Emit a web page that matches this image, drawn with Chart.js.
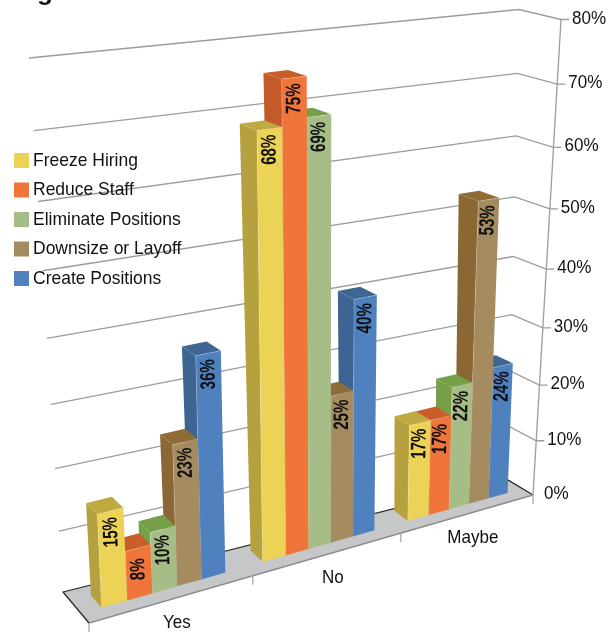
<!DOCTYPE html>
<html>
<head>
<meta charset="utf-8">
<script src="https://cdn.jsdelivr.net/npm/chart.js@4"></script>
<style>html,body{margin:0;padding:0;background:#fff}canvas{display:block}</style>
</head>
<body>
<canvas id="c" width="610" height="632"></canvas>
<script>
const categories = ['Yes', 'No', 'Maybe'];
const seriesNames = ['Freeze Hiring', 'Reduce Staff', 'Eliminate Positions', 'Downsize or Layoff', 'Create Positions'];
const freezeHiring = [15, 68, 17];
const reduceStaff = [8, 75, 17];
const eliminatePositions = [10, 69, 22];
const downsizeOrLayoff = [23, 25, 53];
const createPositions = [36, 40, 24];
const frontColors = ['#EDD355', '#F0753A', '#A7BD87', '#A58B60', '#4E81BE'];
const sideColors = ['#B5A23F', '#C25B28', '#76A048', '#8A6733', '#3D6492'];
const topColors = ['#BFAA40', '#C85E2A', '#76A048', '#8F6C36', '#3F6693'];

// View of the 3D box: page position of its eight corners
const view = {
  front: {floorL: [89, 623], floorR: [533, 495], topL: [66, 72], topR: [561, 19.5]},
  back:  {floorL: [63, 592], floorR: [508, 480], topL: [29, 58], topR: [519, 9.5]}
};
const FONT = '"Liberation Sans", Arial, sans-serif';

function lerp(a, b, t) { return [a[0] + (b[0] - a[0]) * t, a[1] + (b[1] - a[1]) * t]; }

function project(chart, px, py, depth) {
  const a = chart.chartArea;
  const nx = (px - a.left) / (a.right - a.left);
  const ny = (a.bottom - py) / (a.bottom - a.top);
  const X = nx * (1.16 - 0.16 * nx);
  const Y = ny * (0.9 + 0.1 * ny);
  const side = (v) => lerp(lerp(v.floorL, v.floorR, X), lerp(v.topL, v.topR, X), Y);
  return lerp(side(view.front), side(view.back), depth);
}
// bar depth within the box: the box foreshortens towards the right
function depthFront(chart, px) { const a = chart.chartArea; return 0.3 + 0.12 * (px - a.left) / (a.right - a.left); }
function depthBack(chart, px) { const a = chart.chartArea; return 0.7 + 0.3 * (px - a.left) / (a.right - a.left); }
// bars shrink slightly with distance along the category direction
function barTop(chart, el) {
  const a = chart.chartArea;
  const k = 1 - 0.03 * Math.pow((el.x - a.left) / (a.right - a.left), 4);
  return el.base - (el.base - el.y) * k;
}

function poly(ctx, pts, fill) {
  ctx.beginPath();
  pts.forEach((p, i) => i ? ctx.lineTo(p[0], p[1]) : ctx.moveTo(p[0], p[1]));
  ctx.closePath();
  ctx.fillStyle = fill;
  ctx.fill();
}
function line(ctx, pts, color, width) {
  ctx.beginPath();
  pts.forEach((p, i) => i ? ctx.lineTo(p[0], p[1]) : ctx.moveTo(p[0], p[1]));
  ctx.strokeStyle = color;
  ctx.lineWidth = width;
  ctx.stroke();
}
function label(ctx, text, x, y, font, squeeze, align, angle) {
  ctx.save();
  ctx.translate(x, y);
  if (angle) ctx.rotate(angle);
  ctx.scale(squeeze, 1);
  ctx.font = font;
  ctx.fillStyle = '#111';
  ctx.textAlign = align;
  ctx.textBaseline = 'middle';
  ctx.fillText(text, 0, 0);
  ctx.restore();
}

const box3d = {
  id: 'box3d',
  beforeDatasetDraw() { return false; },
  beforeDatasetsDraw(chart) {
    const ctx = chart.ctx, a = chart.chartArea;
    const xs = chart.scales.x, ys = chart.scales.y;
    const P = (px, py, d) => project(chart, px, py, d);
    const zero = ys.getPixelForValue(0);

    // clipped figure caption at the page top
    ctx.save();
    ctx.font = 'bold 26px ' + FONT;
    ctx.fillStyle = '#111';
    ctx.textBaseline = 'alphabetic';
    ctx.textAlign = 'left';
    ctx.fillText('Figure', 14, 0);
    ctx.restore();

    // floor
    const fl = P(a.left, zero, 0), fr = P(a.right, zero, 0), bl = P(a.left, zero, 1), br = P(a.right, zero, 1);
    poly(ctx, [fl, fr, br, bl], '#C6C7C9');
    line(ctx, [fl, bl, br, fr], '#222', 1.2);
    line(ctx, [fl, fr], '#8E8E8E', 1.6);

    // gridlines and value axis
    ys.ticks.forEach((t) => {
      const py = ys.getPixelForValue(t.value);
      const end = P(a.right, py, 0);
      if (t.value > 0) {
        line(ctx, [P(a.left, py, 1), P(a.right, py, 1), end, [end[0] + 8, end[1]]], '#9C9C9C', 1.3);
      }
      label(ctx, t.value + '%', end[0] + 11, end[1] - 1, '18.5px ' + FONT, 0.92, 'left');
    });
    line(ctx, [P(a.right, ys.getPixelForValue(80), 0), fr], '#9C9C9C', 1.3);

    // category ticks and labels
    const step = xs.getPixelForValue(1) - xs.getPixelForValue(0);
    for (let i = 0; i <= categories.length; i++) {
      const p = P(xs.getPixelForValue(0) - step / 2 + i * step, zero, 0);
      line(ctx, [p, [p[0], p[1] + 9]], '#A8A8A8', 1.3);
    }
    categories.forEach((c, i) => {
      const p = P(xs.getPixelForValue(i), zero, 0);
      label(ctx, c, p[0] + 4, p[1] + 24, '18.5px ' + FONT, 0.92, 'center');
    });

    // legend
    chart.data.datasets.forEach((ds, i) => {
      const y = 160.5 + i * 29.5;
      ctx.fillStyle = ds.backgroundColor;
      ctx.fillRect(14, y - 7.5, 15, 15);
      label(ctx, ds.label, 33, y, '18.5px ' + FONT, 0.945, 'left');
    });

    // bars, far right first so nearer neighbours overlap them
    const metas = chart.data.datasets.map((_, i) => chart.getDatasetMeta(i));
    for (let c = categories.length - 1; c >= 0; c--) {
      for (let s = metas.length - 1; s >= 0; s--) {
        const el = metas[s].data[c];
        const xl = el.x - el.width / 2, xr = el.x + el.width / 2, yt = barTop(chart, el);
        const fL = depthFront(chart, xl), bL = depthBack(chart, xl), fR = depthFront(chart, xr), bR = depthBack(chart, xr);
        poly(ctx, [P(xl, el.base, fL), P(xl, el.base, bL), P(xl, yt, bL), P(xl, yt, fL)], sideColors[s]);
        poly(ctx, [P(xl, yt, fL), P(xl, yt, bL), P(xr, yt, bR), P(xr, yt, fR)], topColors[s]);
        const frontFace = [P(xl, el.base, fL), P(xr, el.base, fR), P(xr, yt, fR), P(xl, yt, fL)];
        poly(ctx, frontFace, frontColors[s]);
        line(ctx, [frontFace[0], frontFace[3], frontFace[2]], 'rgba(255,255,255,0.3)', 0.7);
      }
    }
    metas.forEach((m, s) => m.data.forEach((el, c) => {
      const d = depthFront(chart, el.x);
      const top = P(el.x, barTop(chart, el), d), bottom = P(el.x, el.base, d);
      const ux = top[0] - bottom[0], uy = top[1] - bottom[1], len = Math.hypot(ux, uy);
      const cx = top[0] - ux / len * 21, cy = top[1] - uy / len * 21;
      const value = chart.data.datasets[s].data[c];
      label(ctx, value + '%', cx, cy, 'bold 21px ' + FONT, 0.72, 'center', Math.atan2(uy, ux));
    }));
  }
};

const datasets = [freezeHiring, reduceStaff, eliminatePositions, downsizeOrLayoff, createPositions].map((d, i) => ({
  label: seriesNames[i], data: d, backgroundColor: frontColors[i],
  categoryPercentage: 0.76, barPercentage: 1
}));

new Chart(document.getElementById('c'), {
  type: 'bar',
  data: {labels: categories, datasets},
  plugins: [box3d],
  options: {
    responsive: false,
    animation: false,
    layout: {padding: 0},
    plugins: {legend: {display: false}, title: {display: false}, tooltip: {enabled: false}},
    scales: {
      x: {display: false},
      y: {display: false, min: 0, max: 80, ticks: {stepSize: 10}}
    }
  }
});
</script>
</body>
</html>
